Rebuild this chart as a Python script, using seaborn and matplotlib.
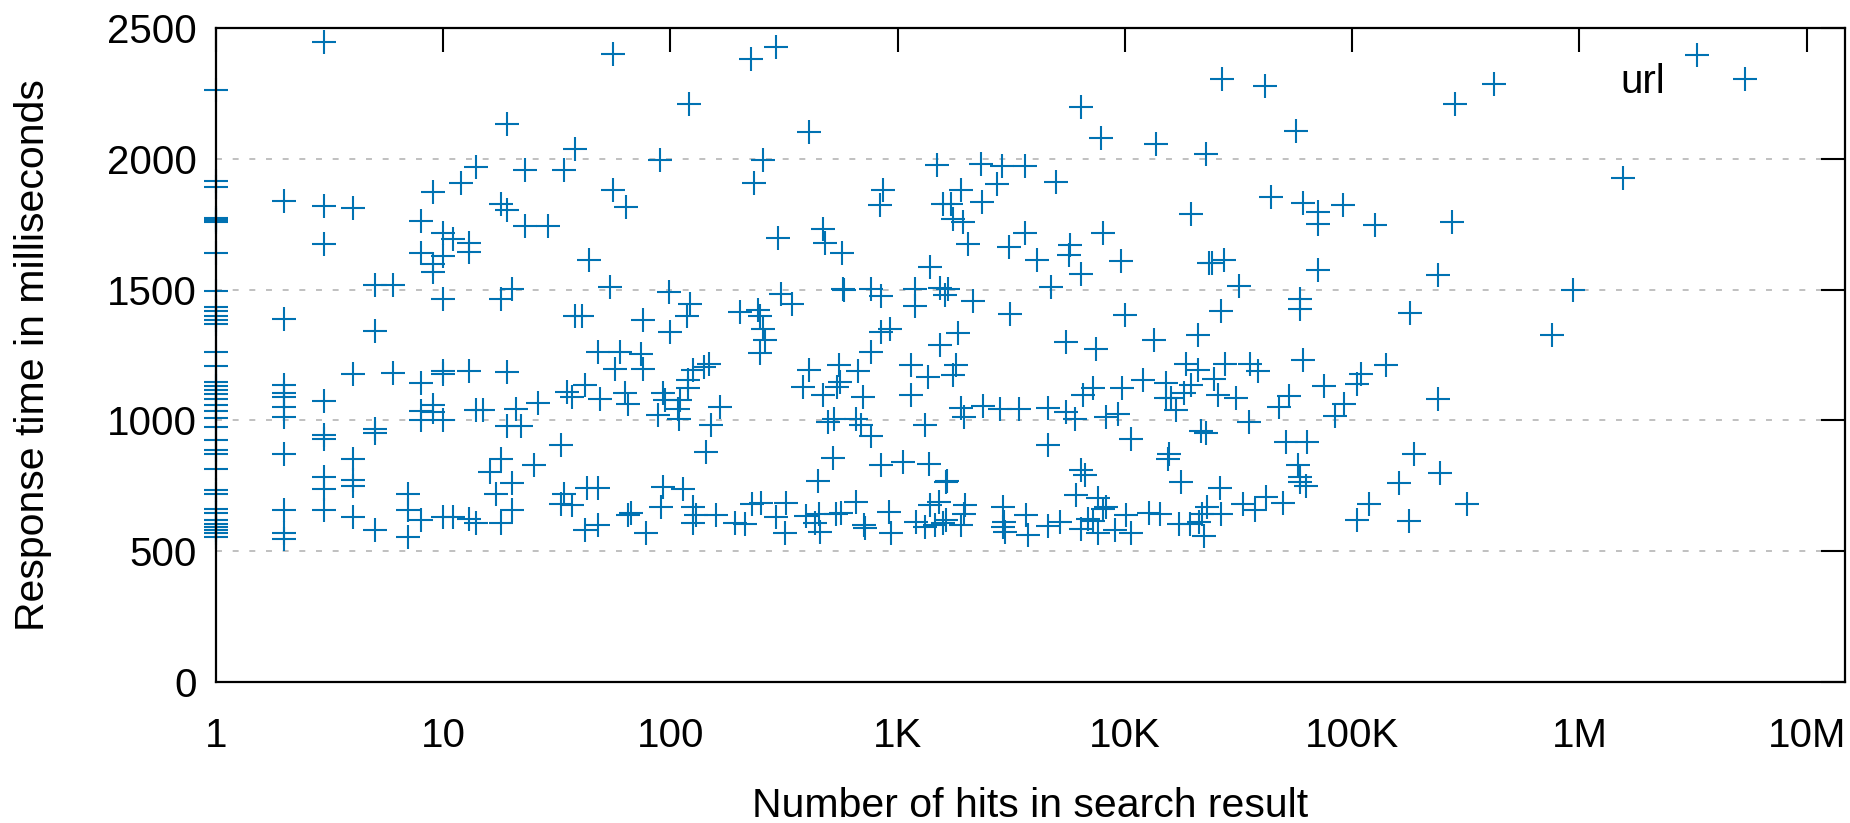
import matplotlib
matplotlib.use("Agg")
import matplotlib.pyplot as plt
import seaborn as sns
import pandas as pd
from matplotlib.ticker import FixedLocator, NullLocator
from matplotlib.lines import Line2D

# ---- data (hits, response time in ms) ----
hits = [
    1, 1, 1, 1, 1, 1, 1, 1, 1, 1, 1, 1, 1, 1, 1, 1, 1, 1, 1, 1,
    1, 1, 1, 1, 1, 1, 1, 1, 1, 1, 1, 1, 1, 1, 1, 1, 1, 1,
    2, 2, 2, 2, 2, 2, 2, 2, 2, 2, 2,
    3, 3, 3, 3, 3, 3, 3, 3, 3,
    4, 4, 4, 4, 4, 4,
    5, 5, 5, 5, 5,
    6, 6,
    7, 7, 7,
    8, 8, 8, 8, 8, 8,
    9, 9, 9, 9, 9,
    10, 10, 10, 10, 10, 10, 10,
    11, 11, 12, 13, 13, 13, 13, 14, 14, 14, 15, 16, 17,
    18, 18, 18, 18, 19, 19, 19, 19, 20, 20, 20, 21, 22, 23, 23,
    25, 26, 29, 33, 33, 34, 34, 35, 37, 37, 38, 38, 41, 42, 42, 43, 44,
    48, 48, 48, 49, 54, 56, 56, 57, 60, 63, 64, 65, 65, 67, 74, 76, 76, 78,
    88, 90, 91, 93, 93, 95, 99, 100, 108, 109, 110, 114, 118, 119, 119,
    121, 122, 126, 126, 126, 130, 140, 143, 147, 151, 159, 165, 192, 202,
    212, 227, 229, 233, 243, 248, 247, 250, 256, 256, 260, 290, 292, 298,
    307, 320, 321, 341, 384, 393, 406, 407, 431, 447, 450, 454, 470, 470,
    478, 491, 520, 525, 533, 541, 552, 555, 563, 571, 575, 580, 653, 658,
    670, 691, 703, 711, 715, 762, 762, 766, 834, 848, 848, 848, 857, 916,
    925, 937, 1057, 1141, 1141, 1197, 1197, 1208, 1315, 1315, 1353, 1371,
    1384, 1384, 1453, 1496, 1522, 1531, 1531, 1580, 1582, 1611, 1630, 1650,
    1637, 1660, 1722, 1750, 1750, 1811, 1841, 1893, 1905, 1905, 1936, 1950,
    1960, 1972, 2037, 2142, 2335, 2354, 2371, 2742, 2810, 2877,
    2900, 2940, 2960, 2920, 3090, 3133, 3400, 3620, 3620, 3680, 3760,
    4100, 4580, 4580, 4580, 4740, 4990, 5200, 5520, 5520, 5670, 5710,
    6010, 6110, 6380, 6380, 6430, 6430, 6540, 6650, 6870, 7230, 7230,
    7430, 7620, 7620, 7870, 8000, 8000, 8280, 8280, 9020, 9310, 9640,
    9730, 10000, 10090, 10660, 10660, 12000, 12770, 13370, 13740, 14220,
    15100, 15100, 15450, 15590, 15960, 16800, 17300, 17700, 18170, 18620,
    19270, 19450, 19570, 20950, 20950, 21120, 21680, 21880, 22250, 22650,
    22800, 23000, 23400, 24200, 24540, 25650, 26100, 26400, 26550, 26700,
    27200, 27420, 30650, 31700, 33000, 35300, 35650, 37200, 38440, 41400,
    41700, 44000, 47500, 49640, 51300, 52960, 56360, 57700, 58700, 58700,
    59000, 59000, 60700, 60700, 62800, 63400, 70700, 70700, 70700, 75000,
    84100, 91000, 91800, 104800, 105200, 109600, 119100, 125400, 140300,
    160000, 177000, 178700, 186300, 237700, 238200, 243800, 274000,
    282300, 319300, 422700, 755000, 935000, 1550000, 3280000,
]
response_ms = [
    2262, 1917, 1892, 1775, 1765, 1758, 1640, 1495, 1434, 1418, 1399, 1383, 1367, 1262, 1208, 1147, 1130, 1115, 1100, 1083,
    1060, 1035, 1010, 975, 924, 886, 873, 816, 733, 718, 663, 645, 619, 605, 592, 580, 568, 556,
    1837, 1389, 1134, 1105, 1090, 1052, 1013, 870, 656, 570, 546,
    2446, 1818, 1676, 1075, 943, 927, 784, 736, 656,
    1813, 1179, 854, 772, 749, 632,
    1519, 1341, 966, 952, 581,
    1519, 1182,
    717, 657, 555,
    1761, 1640, 1143, 1035, 1003, 621,
    1873, 1599, 1567, 1058, 1033,
    1718, 1627, 1465, 1189, 1179, 1001, 632,
    1694, 632, 1907, 1678, 1644, 1189, 622, 1968, 1039, 609, 1039, 803, 718,
    1828, 1465, 854, 606, 2134, 1803, 1185, 978, 1504, 759, 657, 1045, 978, 1959, 1743,
    829, 1067, 1743, 905, 680, 1959, 718, 1109, 1090, 676, 2038, 1398, 1398, 1137, 581, 740, 1612,
    1262, 740, 602, 1080, 1510, 2401, 1882, 1198, 1262, 1103, 1816, 1062, 638, 647, 1255, 1383, 1198, 570,
    1020, 1994, 670, 1105, 746, 1077, 1490, 1338, 1045, 1007, 1077, 736, 1398, 1153, 1122,
    2208, 1446, 1192, 670, 606, 638, 1204, 880, 1217, 982, 638, 1052, 606, 1414,
    605, 2382, 682, 1907, 1421, 1398, 1258, 686, 1996, 1351, 1306, 631, 2427, 1698,
    1482, 570, 686, 1446, 1128, 634, 1192, 2102, 606, 768, 644, 574, 1730, 1096,
    1678, 994, 858, 1007, 644, 1128, 1211, 1147, 647, 1640, 1504, 1500, 689, 1007,
    1189, 982, 1090, 600, 587, 1262, 940, 1504, 1822, 1474, 1338, 831, 1879, 648,
    1351, 570, 842, 1211, 1099, 1504, 1436, 612, 982, 593, 1166, 835,
    1586, 676, 600, 1975, 689, 1508, 1287, 606, 1828, 1478, 765, 770,
    619, 1504, 1828, 1771, 1173, 1211, 1334, 1882, 1049, 600, 1758, 1013,
    644, 676, 1676, 1457, 1981, 1835, 1054, 1905, 1045, 1971,
    670, 612, 574, 593, 1663, 1408, 1045, 1971, 1716, 637, 561,
    1614, 1049, 905, 596, 1510, 1911, 612, 1300, 1033, 1631, 1669,
    1007, 714, 2198, 1561, 810, 583, 1096, 791, 625, 1122, 616,
    1274, 702, 568, 2079, 1716, 663, 1013, 670, 581, 1024, 1608,
    1122, 1402, 638, 927, 570, 1153, 647, 1309, 2058, 644,
    1143, 1084, 854, 873, 1084, 1039, 603, 765, 1103, 1215,
    603, 1790, 1134, 1325, 1194, 612, 960, 644, 557, 2017,
    952, 670, 1602, 1602, 1160, 1096, 740, 1417, 644, 2306,
    1612, 1217, 1084, 1513, 682, 994, 1217, 657, 1188, 2278,
    708, 1854, 1052, 686, 918, 1092, 2105, 829, 1465, 1424,
    784, 765, 1831, 1230, 749, 918, 1797, 1752, 1574, 1132,
    1016, 1822, 1064, 621, 1141, 1176, 682, 1748, 1213,
    759, 615, 1411, 873, 1555, 1081, 800, 1758,
    2208, 682, 2287, 1328, 1500, 1926, 2395,
]

series_label = "url"
x_tick_values = [1, 10, 100, 1000, 10000, 100000, 1000000, 10000000]
x_tick_labels = ["1", "10", "100", "1K", "10K", "100K", "1M", "10M"]
y_tick_values = [0, 500, 1000, 1500, 2000, 2500]
x_label = "Number of hits in search result"
y_label = "Response time in milliseconds"

df = pd.DataFrame({"hits": hits, "ms": response_ms})

sns.set_theme(style="white")
plt.rcParams["font.family"] = ["Liberation Sans", "DejaVu Sans"]

W, H = 1850, 823
fig = plt.figure(figsize=(W / 100, H / 100), dpi=100)
L, R, T, B = 216, 1845, 28, 682
ax = fig.add_axes([L / W, 1 - B / H, (R - L) / W, (B - T) / H])

color = "#0072b2"
sns.scatterplot(data=df, x="hits", y="ms", marker="+", s=300, linewidth=1.5,
                color=color, ax=ax, legend=False)
for c in ax.collections:
    c.set_clip_on(False)

ax.set_xscale("log")
ax.set_xlim(1, 1.474e7)
ax.set_ylim(0, 2500)

ax.xaxis.set_major_locator(FixedLocator(x_tick_values))
ax.set_xticklabels(x_tick_labels)
ax.xaxis.set_minor_locator(NullLocator())
ax.set_yticks(y_tick_values)
ax.set_yticklabels([str(v) for v in y_tick_values])

fs = 29
ax.tick_params(axis="both", which="major", direction="in", length=17, width=1.5,
               top=True, right=True, labelsize=fs, color="black", labelcolor="black")
ax.tick_params(axis="x", pad=25)
ax.tick_params(axis="y", pad=14)
for s in ax.spines.values():
    s.set_linewidth(1.6)
    s.set_color("black")

lw = 1.4
ax.yaxis.grid(True, color="#c0c0c0", linewidth=lw, linestyle=(0, (4.3 / lw, 7.7 / lw)))
ax.xaxis.grid(False)
ax.set_axisbelow(True)

ax.set_xlabel(x_label, fontsize=29.5, color="black")
ax.set_ylabel(y_label, fontsize=29.5, color="black")
ax.xaxis.set_label_coords(0.5, -(806 - B) / (B - T))
ax.yaxis.set_label_coords(-(L - 33) / (R - L), 0.5)
ax.xaxis.label.set_va("center")
ax.yaxis.label.set_va("center")

handle = Line2D([], [], marker="+", linestyle="none", color=color, markersize=17,
                markeredgewidth=1.5)
leg = ax.legend([handle], [series_label], loc="center left", bbox_to_anchor=(1620 / W, 1 - 82 / H),
                bbox_transform=fig.transFigure, frameon=False, markerfirst=False,
                fontsize=fs, borderpad=0, borderaxespad=0, handletextpad=1.0, handlelength=2.0)
for t in leg.get_texts():
    t.set_color("black")

fig.savefig("out.png", dpi=100)
